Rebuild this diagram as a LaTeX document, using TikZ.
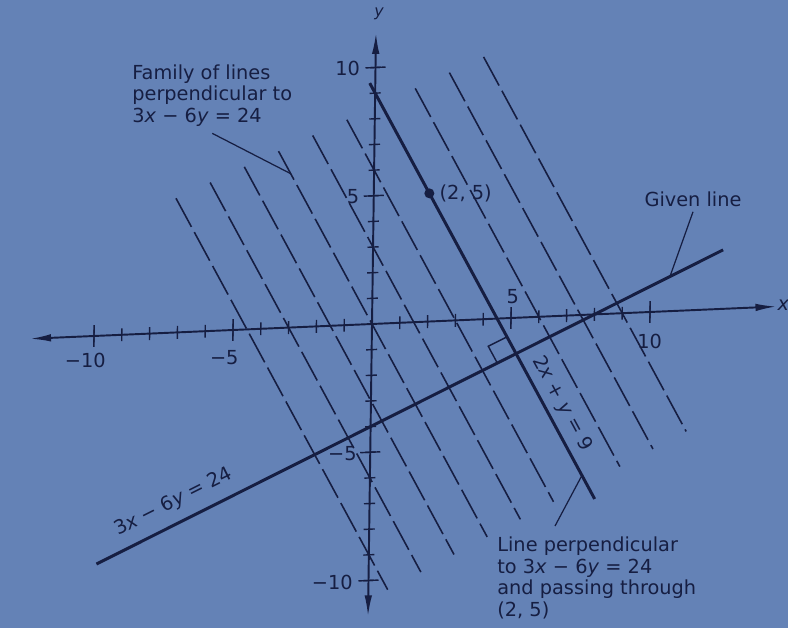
\documentclass[tikz,border=0pt]{standalone}
\usepackage{fontspec}
\setmainfont{DejaVu Sans}
\usepackage{tikz}
\usetikzlibrary{positioning,arrows.meta,calc}
\definecolor{paper}{RGB}{100,130,182}
\definecolor{ink}{RGB}{22,30,66}

\begin{document}
\begin{tikzpicture}[x=1cm,y=1cm,font=\fontsize{11}{12.5}\selectfont,
  every node/.style={text=ink},
  axis/.style={draw=ink,line width=1.1pt,{Latex[length=0.42cm,width=0.15cm]}-{Latex[length=0.42cm,width=0.15cm]}},
  tick/.style={draw=ink,line width=0.8pt},
  solidline/.style={draw=ink,line width=1.7pt},
  family/.style={draw=ink,line width=0.9pt,dash pattern=on 0.65cm off 0.12cm},
  leader/.style={draw=ink,line width=0.7pt},
  note/.style={align=left,inner sep=0pt},
  ticklabel/.style={inner sep=0pt}]

\useasboundingbox[fill=paper] (0,0) rectangle (15.76,12.56);

\begin{scope}[shift={(7.44,6.08)},x={(0.556cm,0.024cm)},y={(0.007cm,0.513cm)}]
\coordinate (gl1) at (-9.8,-8.9);
\coordinate (gl2) at (12.6,2.3);
\coordinate (pl1) at (-0.2,9.4);
\coordinate (pl2) at (8.1,-7.2);
\coordinate (pt) at (2,5);
\coordinate (foot) at (5.2,-1.4);
\coordinate (famtip) at (-3.0,6.0);
\coordinate (gltip) at (10.7,1.35);
\coordinate (pltip) at (7.63,-6.26);

\draw[axis] (-12.3,0) -- (14.55,0);
\draw[axis] (0,-11.4) -- (0,11.35);
\foreach \i in {-10,...,10} \draw[tick] (\i,-0.25) -- (\i,0.25);
\foreach \i in {-10,-5,5,10} \draw[tick] (\i,-0.42) -- (\i,0.42);
\foreach \i in {-10,...,-1,1,2,...,10} \draw[tick] (-0.2,\i) -- (0.2,\i);
\foreach \i in {-10,-5,5,10} \draw[tick] (-0.36,\i) -- (0.36,\i);

\node[ticklabel] (xm10) at (-10.3,-0.95) {−10};
\node[ticklabel] (xm5) at (-5.3,-1.05) {−5};
\node[ticklabel] (xp5) at (5.05,0.85) {5};
\node[ticklabel] (xp10) at (10,-1.15) {10};
\node[ticklabel] (yp10) at (-1.0,10) {10};
\node[ticklabel] (yp5) at (-0.75,5) {5};
\node[ticklabel] (ym5) at (-1.0,-5) {−5};
\node[ticklabel] (ym10) at (-1.3,-10) {−10};
\node[ticklabel,font=\small] (ylab) at (0.1,12.1) {\textit{y}};
\node[ticklabel] (xlab) at (14.8,0.05) {\textit{x}};

\foreach \c in {-9,-6,-3,0,3,6,12,15,18}{
  \pgfmathsetmacro\vt{6.9+0.185*\c}
  \pgfmathsetmacro\vb{-8.5+0.21*\c}
  \draw[family] ({(\c-\vt)/2},\vt) -- ({(\c-\vb)/2},\vb);
}

\draw[solidline] (gl1) -- node[sloped,above=0.2cm,pos=0.138,inner sep=0pt] (gllab) {3\textit{x} − 6\textit{y} = 24} (gl2);
\draw[solidline] (pl1) -- node[sloped,above=0.12cm,pos=0.79,inner sep=0pt] (pllab) {2\textit{x} + \textit{y} = 9} (pl2);
\draw[tick] (foot) ++(-0.67,-0.335) -- ++(-0.335,0.67) -- ++(0.67,0.335);
\fill[ink] (pt) circle[radius=0.1cm];
\node[right=0.2cm,inner sep=0pt] (ptlab) at (pt) {(2, 5)};
\end{scope}

\node[note,anchor=north west] (fam) at (2.64,11.28) {Family of lines\\perpendicular to\\3\textit{x} − 6\textit{y} = 24};
\node[inner sep=0pt] (givlab) at (13.86,8.58) {Given line};
\node[note,anchor=north west] (perplab) at (9.94,1.84) {Line perpendicular\\to 3\textit{x} − 6\textit{y} = 24\\and passing through\\(2, 5)};

\draw[leader] ([yshift=-0.12cm]fam.south) -- (famtip);
\draw[leader] ([yshift=-0.1cm]givlab.south) -- (gltip);
\draw[leader] ([shift={(1.16,0.2)}]perplab.north west) -- (pltip);
\end{tikzpicture}
\end{document}
